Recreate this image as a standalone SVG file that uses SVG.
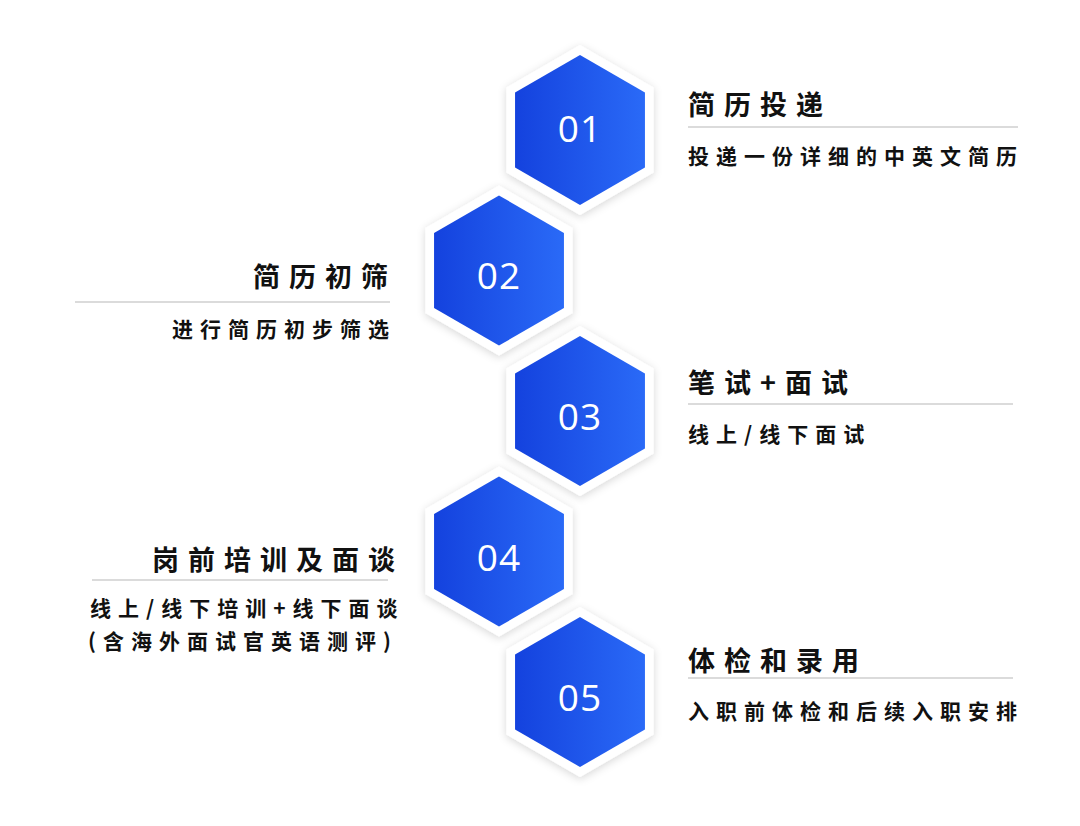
<svg xmlns="http://www.w3.org/2000/svg" width="1080" height="826" viewBox="0 0 1080 826">
  <defs>
    <linearGradient id="blue" x1="0" y1="0" x2="1" y2="0">
      <stop offset="0" stop-color="#1442DE"/>
      <stop offset="1" stop-color="#2A6AF7"/>
    </linearGradient>
    <filter id="shadow" x="-30%" y="-30%" width="160%" height="160%">
      <feDropShadow dx="0" dy="2" stdDeviation="4" flood-color="#000" flood-opacity="0.16"/>
    </filter>
    <polygon id="hexOuter" points="0,-85 73.6,-42.5 73.6,42.5 0,85 -73.6,42.5 -73.6,-42.5"/>
    <polygon id="hexInner" points="0,-75 64.95,-37.5 64.95,37.5 0,75 -64.95,37.5 -64.95,-37.5"/>
  </defs>
  <style>
    .outer { fill: #ffffff; filter: url(#shadow); }
    .inner { fill: url(#blue); }
    .num { font-family: "Open Sans", "Lato", sans-serif; font-size: 37px; font-weight: 500; fill: #ffffff; text-anchor: middle; letter-spacing: 1px; }
    .title { font-family: "Noto Sans CJK SC", sans-serif; font-weight: 700; font-size: 27px; fill: #111111; letter-spacing: 9px; }
    .sub { font-family: "Noto Sans CJK SC", sans-serif; font-weight: 700; font-size: 21px; fill: #111111; letter-spacing: 7px; }
    .rule { stroke: #b8b8b8; stroke-width: 1.2; }
  </style>
  <rect x="0" y="0" width="1080" height="826" fill="#ffffff"/>

  <g id="connectors"></g>

  <g id="step1">
    <use href="#hexOuter" class="outer" transform="translate(580,130)"/>
    <use href="#hexInner" class="inner" transform="translate(580,130)"/>
    <text class="num" x="580" y="142">01</text>
    <text class="title" x="688" y="115">简历投递</text>
    <line class="rule" x1="688" y1="127" x2="1018" y2="127"/>
    <text class="sub" x="688" y="164">投递一份详细的中英文简历</text>
  </g>

  <g id="step2">
    <use href="#hexOuter" class="outer" transform="translate(499,270.5)"/>
    <use href="#hexInner" class="inner" transform="translate(499,270.5)"/>
    <text class="num" x="499" y="289">02</text>
    <text class="title" x="253" y="287">简历初筛</text>
    <line class="rule" x1="75" y1="302" x2="390" y2="302"/>
    <text class="sub" x="172" y="337">进行简历初步筛选</text>
  </g>

  <g id="step3">
    <use href="#hexOuter" class="outer" transform="translate(580,411)"/>
    <use href="#hexInner" class="inner" transform="translate(580,411)"/>
    <text class="num" x="580" y="430">03</text>
    <text class="title" x="688" y="393">笔试+面试</text>
    <line class="rule" x1="688" y1="404" x2="1013" y2="404"/>
    <text class="sub" x="688" y="442">线上/线下面试</text>
  </g>

  <g id="step4">
    <use href="#hexOuter" class="outer" transform="translate(499,551.5)"/>
    <use href="#hexInner" class="inner" transform="translate(499,551.5)"/>
    <text class="num" x="499" y="571">04</text>
    <text class="title" x="152" y="570">岗前培训及面谈</text>
    <line class="rule" x1="92" y1="580" x2="388" y2="580"/>
    <text class="sub" x="90" y="616">线上/线下培训+线下面谈</text>
    <text class="sub" x="88" y="649">(含海外面试官英语测评)</text>
  </g>

  <g id="step5">
    <use href="#hexOuter" class="outer" transform="translate(580,692)"/>
    <use href="#hexInner" class="inner" transform="translate(580,692)"/>
    <text class="num" x="580" y="711">05</text>
    <text class="title" x="688" y="671">体检和录用</text>
    <line class="rule" x1="688" y1="678" x2="1013" y2="678"/>
    <text class="sub" x="688" y="719">入职前体检和后续入职安排</text>
  </g>
</svg>
